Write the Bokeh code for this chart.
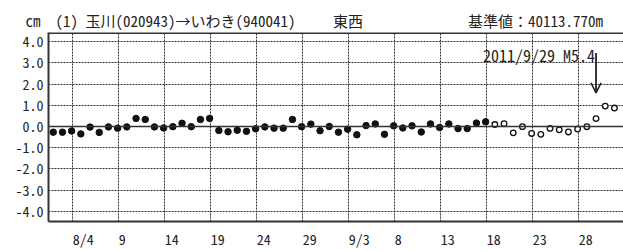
import pandas as pd
from bokeh.plotting import figure
from bokeh.models import (Range1d, FixedTicker, Span, Label, ColumnDataSource, Arrow, OpenHead)
from bokeh.embed import file_html
from bokeh.resources import INLINE

# ---- data -------------------------------------------------------------
dates = pd.date_range("2011-08-01", "2011-10-01", freq="D")
values = [
    -0.27, -0.27, -0.21, -0.35, -0.03, -0.28, -0.02, -0.08, -0.02, 0.38,
    0.33, -0.02, -0.07, -0.01, 0.15, -0.01, 0.33, 0.38, -0.19, -0.25,
    -0.18, -0.23, -0.11, -0.02, -0.08, -0.08, 0.33, -0.01, 0.11, -0.20,
    0.00, -0.27, -0.13, -0.39, 0.04, 0.12, -0.37, 0.03, -0.07, 0.03,
    -0.26, 0.12, -0.05, 0.12, -0.10, -0.10, 0.16, 0.22,
    0.09, 0.13, -0.30, -0.01, -0.33, -0.37, -0.09, -0.16, -0.26, -0.12,
    -0.01, 0.37, 0.96, 0.87,
]
final_last = pd.Timestamp("2011-09-17")      # final solutions up to here, rapid after
tick_dates = pd.date_range("2011-08-04", "2011-09-28", freq="5D")
tick_labels = ["8/4", "9", "14", "19", "24", "29", "9/3", "8", "13", "18", "23", "28"]
y_ticks = [-4, -3, -2, -1, 0, 1, 2, 3, 4]
y_labels = ["-4.0", "-3.0", "-2.0", "-1.0", "0.0", "1.0", "2.0", "3.0", "4.0"]
event_date = pd.Timestamp("2011-09-29")
event_text = "2011/9/29 M5.4"
title_unit = "cm"
title_main = "(1) 玉川(020943)→いわき(940041)"
title_comp = "東西"
title_ref = "基準値：40113.770m"

# ---- layout constants ---------------------------------------------------
W, H = 623, 251
BL, BR, BT, BB = 48, 0, 32, 22
X0, X1 = 0.36, 62.86
Y0, Y1 = -4.48, 4.43
PX_PER_DAY = (W - BL - BR) / (X1 - X0)
FONT = "'Noto Sans Mono CJK JP', 'Noto Sans CJK JP', monospace"
TICK_FS = 14
TXT = "#222222"
LINE = "#333333"

origin = pd.Timestamp("2011-08-01")
SOL_HOUR = 21.0 / 24.0   # daily solution epoch plotted at 21:00 JST

def day_pos(d):
    return (pd.Timestamp(d) - origin).days

xs = [day_pos(d) + SOL_HOUR for d in dates]
solid = ColumnDataSource(dict(x=[x for x, d in zip(xs, dates) if d <= final_last],
                              y=[v for v, d in zip(values, dates) if d <= final_last]))
hollow = ColumnDataSource(dict(x=[x for x, d in zip(xs, dates) if d > final_last],
                               y=[v for v, d in zip(values, dates) if d > final_last]))
grid_x = [day_pos(d) for d in tick_dates]
# labels start at the gridline: shift each centred label by half its (monospace) width
label_x = [g + len(t) * TICK_FS * 0.25 / PX_PER_DAY for g, t in zip(grid_x, tick_labels)]

IS = "\u3000"  # ideographic space
title_text = (title_unit + IS + title_main + IS * 2 + " " + title_comp + IS * 7 + title_ref)

p = figure(width=W, height=H,
           x_range=Range1d(X0, X1), y_range=Range1d(Y0, Y1),
           output_backend="svg", toolbar_location=None,
           min_border_left=BL, min_border_right=BR, min_border_top=BT, min_border_bottom=BB,
           title=title_text)
p.outline_line_color = None
p.background_fill_color = "white"
p.border_fill_color = "white"

p.title.align = "left"
p.title.offset = -23
p.title.standoff = 4
p.title.text_font = FONT
p.title.text_font_size = "15px"
p.title.text_font_style = "normal"
p.title.text_color = TXT

# bottom axis: border line + left-aligned date labels
p.xaxis.ticker = FixedTicker(ticks=label_x)
p.xaxis.major_label_overrides = {x: t for x, t in zip(label_x, tick_labels)}
p.xaxis.axis_line_width = 2
p.xaxis.axis_line_color = LINE
p.xaxis.major_tick_out = 0
p.xaxis.minor_tick_out = 0
p.xaxis.major_tick_in = 0
p.xaxis.minor_tick_in = 0
p.xaxis.major_label_standoff = 7
p.xaxis.major_label_text_font = FONT
p.xaxis.major_label_text_font_size = f"{TICK_FS}px"
p.xaxis.major_label_text_color = TXT

# left axis
p.yaxis.ticker = FixedTicker(ticks=y_ticks)
p.yaxis.major_label_overrides = {t: l for t, l in zip(y_ticks, y_labels)}
p.yaxis.axis_line_width = 2
p.yaxis.axis_line_color = LINE
p.yaxis.major_tick_out = 0
p.yaxis.major_tick_in = 0
p.yaxis.minor_tick_out = 0
p.yaxis.minor_tick_in = 0
p.yaxis.major_label_standoff = 5
p.yaxis.major_label_text_font = FONT
p.yaxis.major_label_text_font_size = f"{TICK_FS}px"
p.yaxis.major_label_text_color = TXT

# grids
p.xgrid.ticker = FixedTicker(ticks=grid_x)
p.ygrid.ticker = FixedTicker(ticks=[t for t in y_ticks if t != 0])
for g in (p.xgrid, p.ygrid):
    g.grid_line_color = LINE
    g.grid_line_dash = "2 1"
    g.grid_line_width = 1
p.add_layout(Span(location=0, dimension="width", line_color=LINE, line_width=1.5))
# top border of the plotting area
p.add_layout(Span(location=Y1, dimension="width", line_color=LINE, line_width=3))

# points
p.scatter("x", "y", source=solid, size=6.5, fill_color="#111111", line_color="#111111")
p.scatter("x", "y", source=hollow, size=5.6, fill_color="white", line_color="#111111",
          line_width=1.3)

# event annotation
ex = day_pos(event_date) + SOL_HOUR
p.add_layout(Arrow(x_start=ex, y_start=3.46, x_end=ex, y_end=1.58,
                   line_width=1.8, line_color="#222222",
                   end=OpenHead(size=10, line_width=1.6, line_color="#222222")))
p.add_layout(Label(x=ex, y=3.39, text=event_text, text_align="right", text_baseline="middle",
                   x_offset=-1, text_font=FONT, text_font_size="16px", text_color=TXT))

open("out.html", "w").write(file_html(p, INLINE))
